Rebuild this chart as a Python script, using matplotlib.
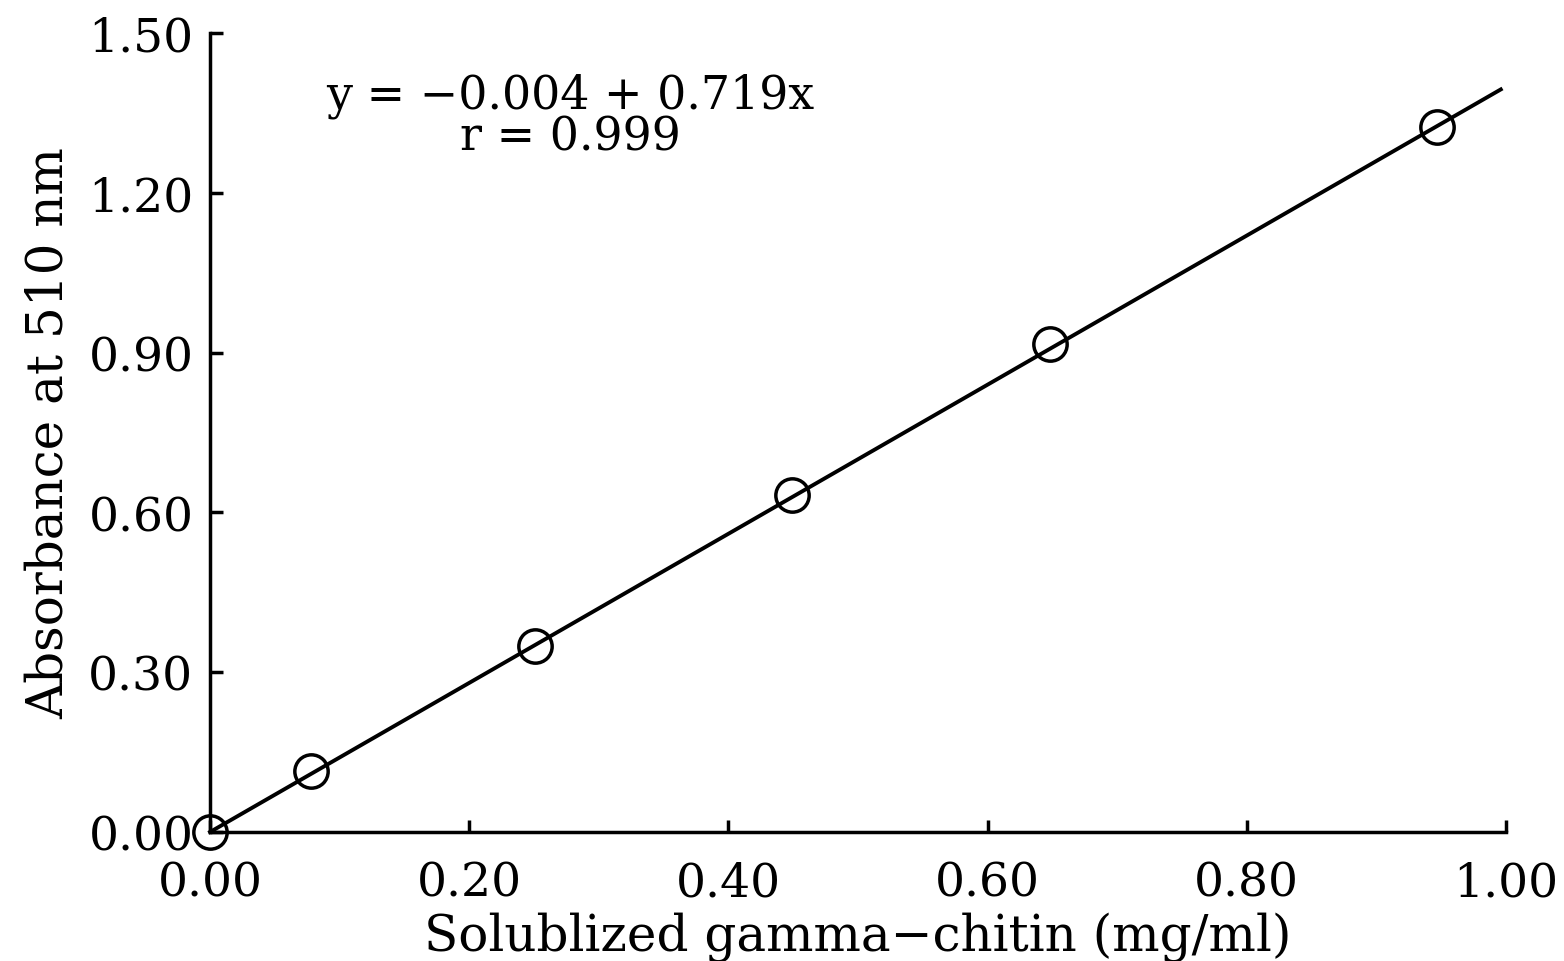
import matplotlib
matplotlib.use('Agg')
import matplotlib.pyplot as plt

# values
conc = [0.0, 0.078, 0.251, 0.449, 0.648, 0.947]
absorb = [0.0, 0.115, 0.349, 0.633, 0.916, 1.323]
fit_x = [0.0, 0.996]
fit_y = [0.0, 1.394]
x_ticks = [0.0, 0.2, 0.4, 0.6, 0.8, 1.0]
y_ticks = [0.0, 0.3, 0.6, 0.9, 1.2, 1.5]

plt.rcParams['font.family'] = ['DejaVu Serif']

fig = plt.figure(figsize=(15.64, 9.62), dpi=100)
ax = fig.add_axes([0.1343, 0.1341, 0.8286, 0.8306])

ax.plot(fit_x, fit_y, color='black', linewidth=2.8, clip_on=False)
ax.plot(conc, absorb, linestyle='none', marker='o', markersize=24,
        markerfacecolor='none', markeredgecolor='black', markeredgewidth=2.5,
        clip_on=False, zorder=5)

ax.set_xlim(0, 1.0)
ax.set_ylim(0, 1.5)
ax.set_xticks(x_ticks)
ax.set_yticks(y_ticks)
ax.set_xticklabels(['%.2f' % v for v in x_ticks])
ax.set_yticklabels(['%.2f' % v for v in y_ticks])

for side in ['top', 'right']:
    ax.spines[side].set_visible(False)
for side in ['left', 'bottom']:
    ax.spines[side].set_linewidth(2.5)

ax.tick_params(axis='both', direction='in', length=9, width=2.5, labelsize=34)
ax.tick_params(axis='x', pad=20)
ax.tick_params(axis='y', pad=12)

ax.set_xlabel('Solublized gamma\u2212chitin (mg/ml)', fontsize=36, labelpad=4)
ax.set_ylabel('Absorbance at 510 nm', fontsize=36, labelpad=10)

# equation block, two centred lines
ax.text(0.278, 1.361, 'y = \u22120.004 + 0.719x', fontsize=33, ha='center', va='baseline')
ax.text(0.278, 1.282, 'r = 0.999', fontsize=33, ha='center', va='baseline')

fig.savefig('out.png', dpi=100)
